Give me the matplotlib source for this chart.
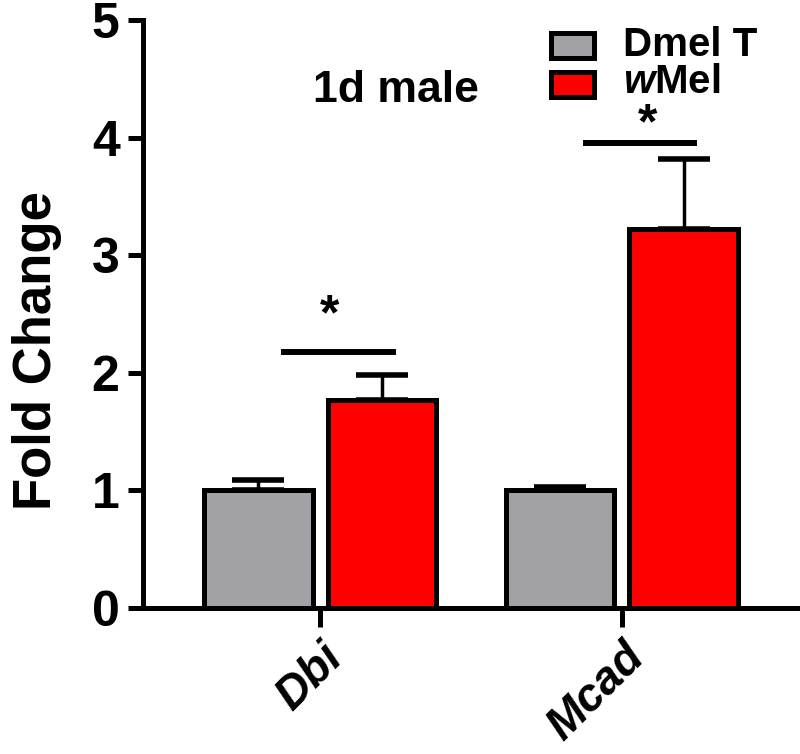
import matplotlib
matplotlib.use("Agg")
import matplotlib.pyplot as plt
import matplotlib.patches as mpatches
import numpy as np

plt.rcParams['font.family'] = ['Liberation Sans', 'DejaVu Sans']
plt.rcParams['mathtext.fontset'] = 'custom'
plt.rcParams['mathtext.it'] = 'Liberation Sans:italic'
plt.rcParams['mathtext.bfit'] = 'Liberation Sans:italic:bold'
plt.rcParams['mathtext.rm'] = 'Liberation Sans'

# data
genes = ['Dbi', 'Mcad']
dmel = [1.0, 1.0]
dmel_err = [0.09, 0.03]
wmel = [1.77, 3.22]
wmel_err = [0.21, 0.60]
sig_y = [2.18, 3.96]
star_y = [2.48, 4.11]
star_dx = [0.03, 0.085]
series = ['Dmel T', r'$\mathbfit{w}$Mel']

grey = '#a2a1a6'
red = '#ff0000'

fig = plt.figure(figsize=(8, 7.54), dpi=100)
ax = fig.add_axes([0.179, 0.194, 0.821, 0.779])

x = np.arange(len(genes))
w = 0.36
off = 0.205

ax.bar(x - off, dmel, w, color=grey, edgecolor='black', linewidth=3.6, zorder=3)
ax.bar(x + off, wmel, w, color=red, edgecolor='black', linewidth=3.6, zorder=3)
ax.errorbar(x - off, dmel, yerr=[np.zeros(len(x)), dmel_err], fmt='none',
            ecolor='black', elinewidth=2.5, capsize=19, capthick=4, zorder=2)
ax.errorbar(x + off, wmel, yerr=[np.zeros(len(x)), wmel_err], fmt='none',
            ecolor='black', elinewidth=2.5, capsize=19, capthick=4, zorder=2)

# significance bars
for xi, yi, sy, dx in zip(x, sig_y, star_y, star_dx):
    ax.plot([xi - 0.13, xi + 0.25], [yi, yi], color='black', lw=4.3,
            solid_capstyle='butt')
    ax.text(xi + dx, sy, '*', ha='center', va='center',
            fontsize=36, fontweight='bold')

ax.text(0.25, 4.4, '1d male', ha='center', va='center', fontsize=32,
        fontweight='bold')

ax.set_xlim(-0.586, 1.59)
ax.set_ylim(0, 5)
ax.set_yticks([0, 1, 2, 3, 4, 5])
ax.set_xticks(x)
ax.set_xticklabels(genes, rotation=45, ha='right', rotation_mode='anchor',
                   fontsize=33, fontweight='bold', style='italic')
for lab in ax.get_yticklabels():
    lab.set_fontsize(36)
    lab.set_fontweight('bold')
ax.set_ylabel('Fold Change', fontsize=38, fontweight='bold')
ax.yaxis.set_label_coords(-0.124, 0.437)

for s in ['top', 'right']:
    ax.spines[s].set_visible(False)
for s in ['left', 'bottom']:
    ax.spines[s].set_linewidth(3.6)
ax.tick_params(axis='y', width=3.6, length=11, pad=6)
ax.tick_params(axis='x', width=3.6, length=14, pad=6)

# legend drawn by hand (figure fractions)
box_y = [0.923, 0.871]
text_y = [0.940, 0.891]
for col, by, ty, lab in zip([grey, red], box_y, text_y, series):
    fig.patches.append(mpatches.Rectangle((0.689, by), 0.054, 0.033,
                                          transform=fig.transFigure,
                                          facecolor=col, edgecolor='black',
                                          linewidth=3.6))
    fig.text(0.779, ty, lab, ha='left', va='center', fontsize=29,
             fontweight='bold')

fig.savefig('out.png', dpi=100)
